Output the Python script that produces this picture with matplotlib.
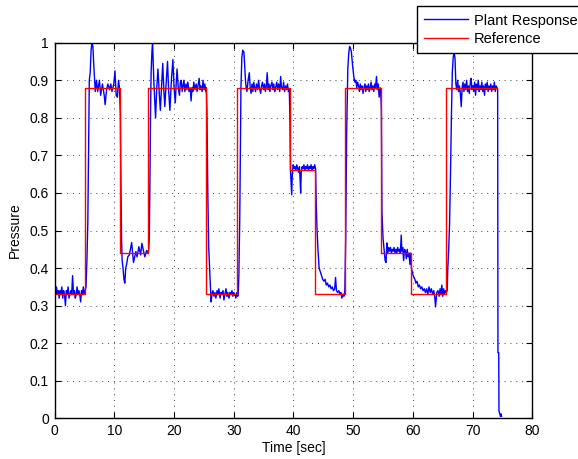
import matplotlib
matplotlib.use("Agg")
import matplotlib.pyplot as plt

plt.rcParams['font.family'] = ['Liberation Sans', 'DejaVu Sans']

# reference set-point steps (start time, level); last one ends at ref_end
ref_times = [0.0, 5.0, 10.95, 15.65, 25.35, 30.55, 39.35, 43.6, 48.55, 54.7, 59.7, 65.55]
ref_levels = [0.33, 0.88, 0.44, 0.88, 0.33, 0.88, 0.66, 0.33, 0.88, 0.44, 0.33, 0.88]
ref_end = 74.15

# plant response
plant_t = [
    0.0, 0.15, 0.3, 0.45, 0.6, 0.75, 0.9, 1.05, 1.2, 1.35, 1.5, 1.65, 1.8, 1.95, 2.1, 2.25,
    2.4, 2.55, 2.7, 2.85, 3.0, 3.15, 3.3, 3.45, 3.6, 3.75, 3.9, 4.05, 4.2, 4.35, 4.5, 4.65,
    4.8, 4.95, 5.1,
    5.25, 5.4, 5.55, 5.7, 5.8, 5.95, 6.1, 6.25, 6.4, 6.55, 6.7, 6.8,
    7.0, 7.2, 7.5, 7.7, 8.0, 8.3, 8.45, 8.7, 8.9, 9.2, 9.4, 9.6, 9.9, 10.1, 10.3, 10.5,
    10.7, 10.85, 11.0,
    11.1, 11.2, 11.3, 11.45, 11.6, 11.75, 11.9, 12.05, 12.25, 12.5, 12.9, 13.2, 13.6, 13.8,
    14.1, 14.4, 14.6, 14.9, 15.1, 15.4, 15.6,
    15.75, 15.85, 15.95, 16.05, 16.15, 16.3, 16.4,
    16.6, 16.9, 17.1, 17.3, 17.5, 17.7, 17.9, 18.1, 18.3, 18.45, 18.7, 18.9, 19.1, 19.3,
    19.55, 19.8, 20.0, 20.2, 20.35, 20.5, 20.7, 20.9, 21.05, 21.2, 21.35, 21.5, 21.65, 21.8,
    22.0, 22.15, 22.3, 22.5, 22.7, 22.85, 23.0, 23.15, 23.3, 23.5, 23.7, 23.85, 24.0, 24.2,
    24.35, 24.5, 24.7, 24.85, 25.0, 25.15, 25.3, 25.4,
    25.5, 25.65, 25.8, 25.95, 26.1, 26.2, 26.35,
    26.5, 26.7, 26.85, 27.0, 27.2, 27.35, 27.5, 27.7, 27.85, 28.0, 28.2, 28.35, 28.5, 28.7,
    28.85, 29.0, 29.2, 29.35, 29.5, 29.7, 29.85, 30.0, 30.2, 30.35, 30.5, 30.65,
    30.75, 30.85, 31.0, 31.1, 31.2, 31.35, 31.5, 31.7, 31.85, 32.0, 32.2, 32.4, 32.6, 32.75,
    32.9, 33.05,
    33.2, 33.35, 33.5, 33.65, 33.8, 34.0, 34.15, 34.3, 34.5, 34.65, 34.8, 35.0, 35.15, 35.3,
    35.45, 35.6, 35.75, 35.9, 36.05, 36.2, 36.4, 36.55, 36.7, 36.85, 37.0, 37.2, 37.35, 37.5,
    37.7, 37.85, 38.0, 38.2, 38.35, 38.5, 38.7, 38.85, 39.0, 39.15, 39.3,
    39.4, 39.5, 39.6, 39.7, 39.8, 39.95, 40.1, 40.25, 40.4, 40.55, 40.7, 40.85, 41.0, 41.1,
    41.2, 41.3, 41.45, 41.6, 41.75, 41.9, 42.05, 42.2, 42.35, 42.5, 42.65, 42.8, 42.95, 43.1,
    43.25, 43.4, 43.55, 43.7,
    43.8, 43.95, 44.1, 44.3, 44.5, 44.7, 44.9, 45.1, 45.3, 45.5, 45.7, 45.9, 46.1, 46.3,
    46.5, 46.7, 46.9, 47.05, 47.2, 47.4, 47.6, 47.8, 47.95, 48.1, 48.3, 48.45,
    48.6, 48.75, 48.9, 49.1, 49.25, 49.4, 49.55, 49.7, 49.9, 50.1, 50.3, 50.45,
    50.6, 50.75, 50.9, 51.05, 51.2, 51.35, 51.5, 51.65, 51.8, 51.95, 52.1, 52.25, 52.4, 52.55,
    52.7, 52.85, 53.0, 53.15, 53.3, 53.45, 53.6, 53.75, 53.9, 54.05, 54.2, 54.35, 54.5, 54.6,
    54.72, 54.82, 55.0, 55.2, 55.35, 55.5, 55.65, 55.8, 55.95, 56.1, 56.25, 56.4, 56.55, 56.7,
    56.85, 57.0, 57.15, 57.3, 57.45, 57.6, 57.75, 57.9, 58.05, 58.15, 58.3, 58.45, 58.6, 58.75,
    58.9, 59.05, 59.2, 59.35, 59.5, 59.65,
    59.75, 59.9, 60.05, 60.2, 60.35, 60.5, 60.7, 60.9, 61.1, 61.3, 61.5, 61.7, 61.9, 62.1,
    62.3, 62.5, 62.7, 62.9, 63.1, 63.3, 63.5, 63.65, 63.8, 64.0, 64.2, 64.4, 64.55, 64.7,
    64.85, 65.0, 65.15, 65.3, 65.45, 65.6,
    65.75, 65.85, 66.0, 66.15, 66.3, 66.45, 66.6, 66.75, 66.9, 67.05, 67.2, 67.35,
    67.5, 67.65, 67.8, 67.95, 68.1, 68.25, 68.4, 68.55, 68.7, 68.85, 69.0, 69.15, 69.3, 69.45,
    69.6, 69.75, 69.9, 70.05, 70.2, 70.35, 70.5, 70.65, 70.8, 70.95, 71.1, 71.25, 71.4, 71.55,
    71.7, 71.85, 72.0, 72.15, 72.3, 72.45, 72.6, 72.75, 72.9, 73.05, 73.2, 73.35, 73.5, 73.65,
    73.8, 73.95, 74.1,
    74.2, 74.25, 74.38, 74.42, 74.5, 74.6, 74.68, 74.75, 74.85,
]
plant_v = [
    0.34, 0.33, 0.35, 0.33, 0.34, 0.32, 0.34, 0.33, 0.35, 0.32, 0.34, 0.33, 0.30, 0.34, 0.33, 0.35,
    0.32, 0.33, 0.34, 0.33, 0.38, 0.33, 0.34, 0.32, 0.33, 0.35, 0.33, 0.34, 0.33, 0.31, 0.34, 0.33,
    0.35, 0.33, 0.34,
    0.35, 0.42, 0.52, 0.75, 0.90, 0.92, 0.98, 1.0, 0.99, 0.94, 0.90, 0.87,
    0.90, 0.87, 0.90, 0.86, 0.89, 0.86, 0.835, 0.875, 0.89, 0.875, 0.89, 0.87, 0.89, 0.925, 0.86, 0.855,
    0.90, 0.88, 0.81,
    0.62, 0.48, 0.42, 0.40, 0.37, 0.36, 0.40, 0.41, 0.43, 0.435, 0.468, 0.415, 0.444, 0.43,
    0.457, 0.435, 0.466, 0.445, 0.43, 0.447, 0.44,
    0.45, 0.48, 0.62, 0.80, 0.92, 0.98, 1.0,
    0.90, 0.80, 0.88, 0.93, 0.87, 0.82, 0.88, 0.945, 0.87, 0.83, 0.90, 0.95, 0.87, 0.82,
    0.90, 0.955, 0.88, 0.84, 0.89, 0.93, 0.88, 0.86, 0.895, 0.90, 0.87, 0.885, 0.90, 0.87,
    0.89, 0.875, 0.895, 0.87, 0.88, 0.845, 0.88, 0.87, 0.895, 0.875, 0.89, 0.87, 0.885, 0.905,
    0.875, 0.885, 0.87, 0.90, 0.875, 0.89, 0.87, 0.88,
    0.82, 0.60, 0.455, 0.40, 0.347, 0.31, 0.33,
    0.34, 0.325, 0.335, 0.32, 0.34, 0.33, 0.345, 0.32, 0.335, 0.33, 0.34, 0.315, 0.33, 0.345,
    0.325, 0.335, 0.32, 0.335, 0.33, 0.34, 0.325, 0.335, 0.33, 0.32, 0.335, 0.325,
    0.33, 0.38, 0.53, 0.70, 0.88, 0.96, 0.98, 0.975, 0.93, 0.89, 0.87, 0.90, 0.92, 0.88,
    0.865, 0.89,
    0.87, 0.895, 0.88, 0.87, 0.89, 0.875, 0.90, 0.88, 0.865, 0.885, 0.895, 0.875, 0.89, 0.87,
    0.885, 0.92, 0.875, 0.89, 0.87, 0.885, 0.895, 0.875, 0.89, 0.87, 0.88, 0.895, 0.875, 0.89,
    0.87, 0.91, 0.88, 0.875, 0.895, 0.87, 0.885, 0.875, 0.89, 0.87, 0.875,
    0.80, 0.66, 0.63, 0.595, 0.65, 0.675, 0.665, 0.67, 0.66, 0.675, 0.665, 0.655, 0.67, 0.64,
    0.60, 0.655, 0.67, 0.665, 0.675, 0.66, 0.67, 0.665, 0.675, 0.66, 0.67, 0.665, 0.675, 0.66,
    0.67, 0.665, 0.675, 0.665,
    0.58, 0.50, 0.45, 0.40, 0.39, 0.38, 0.37, 0.365, 0.37, 0.355, 0.36, 0.35, 0.355, 0.345,
    0.35, 0.34, 0.345, 0.375, 0.34, 0.335, 0.34, 0.33, 0.335, 0.32, 0.33, 0.325,
    0.34, 0.48, 0.75, 0.93, 0.97, 0.99, 0.985, 0.975, 0.94, 0.91, 0.895, 0.90,
    0.88, 0.895, 0.885, 0.87, 0.89, 0.875, 0.885, 0.865, 0.88, 0.89, 0.87, 0.885, 0.875, 0.89,
    0.87, 0.88, 0.895, 0.875, 0.885, 0.87, 0.89, 0.88, 0.91, 0.875, 0.89, 0.855, 0.88, 0.875,
    0.82, 0.55, 0.48, 0.445, 0.42, 0.415, 0.467, 0.44, 0.455, 0.445, 0.455, 0.44, 0.45, 0.445,
    0.455, 0.44, 0.45, 0.44, 0.455, 0.445, 0.45, 0.44, 0.488, 0.445, 0.455, 0.42, 0.45, 0.445,
    0.425, 0.45, 0.43, 0.44, 0.41, 0.44,
    0.40, 0.39, 0.38, 0.375, 0.37, 0.36, 0.365, 0.35, 0.355, 0.345, 0.35, 0.34, 0.345, 0.335,
    0.345, 0.33, 0.35, 0.335, 0.345, 0.33, 0.34, 0.325, 0.297, 0.335, 0.34, 0.325, 0.345, 0.33,
    0.355, 0.325, 0.345, 0.33, 0.34, 0.335,
    0.34, 0.40, 0.45, 0.52, 0.65, 0.80, 0.92, 0.96, 0.975, 0.96, 0.89, 0.875,
    0.90, 0.87, 0.885, 0.865, 0.83, 0.88, 0.895, 0.87, 0.89, 0.875, 0.90, 0.87, 0.885, 0.865,
    0.89, 0.905, 0.875, 0.885, 0.87, 0.895, 0.86, 0.89, 0.875, 0.90, 0.87, 0.885, 0.875, 0.895,
    0.87, 0.885, 0.86, 0.89, 0.875, 0.895, 0.87, 0.885, 0.875, 0.89, 0.87, 0.885, 0.875, 0.895,
    0.87, 0.885, 0.88,
    0.875, 0.175, 0.175, 0.02, 0.015, 0.01, 0.005, 0.012, 0.006,
]

# build step line for the reference
ref_x, ref_y = [], []
for i, lvl in enumerate(ref_levels):
    t_end = ref_times[i + 1] if i + 1 < len(ref_times) else ref_end
    ref_x += [ref_times[i], t_end]
    ref_y += [lvl, lvl]

fig = plt.figure(figsize=(5.78, 4.59), dpi=100)
ax = fig.add_axes([0.0946, 0.0885, 0.8263, 0.8185])

ax.plot(plant_t, plant_v, color=(0, 0, 1), lw=1.0, label='Plant Response')
ax.plot(ref_x, ref_y, color=(1, 0, 0), lw=1.0, label='Reference')

ax.set_xlim(0, 80)
ax.set_ylim(0, 1)
ax.set_xticks(range(0, 81, 10))
ax.set_yticks([i / 10 for i in range(11)])
ax.set_yticklabels(['0', '0.1', '0.2', '0.3', '0.4', '0.5', '0.6', '0.7', '0.8', '0.9', '1'])
ax.tick_params(direction='in', top=True, right=True, length=4, width=0.8, labelsize=10, pad=4)
for s in ax.spines.values():
    s.set_linewidth(1.0)

ax.grid(True, color='0.25', linestyle=(0, (1, 5)), linewidth=0.7)
ax.set_axisbelow(True)

ax.set_xlabel('Time [sec]', fontsize=10, labelpad=2)
ax.set_ylabel('Pressure', fontsize=10, labelpad=6)

leg = ax.legend(loc='lower left', bbox_to_anchor=(0.721, 0.884), bbox_transform=fig.transFigure,
                borderaxespad=0, fancybox=False, framealpha=1, edgecolor='black',
                handlelength=3.0, handletextpad=0.4, borderpad=0.5, labelspacing=0.3,
                fontsize=10.5)
leg.get_frame().set_linewidth(1.0)

fig.savefig('out.png', dpi=100)
